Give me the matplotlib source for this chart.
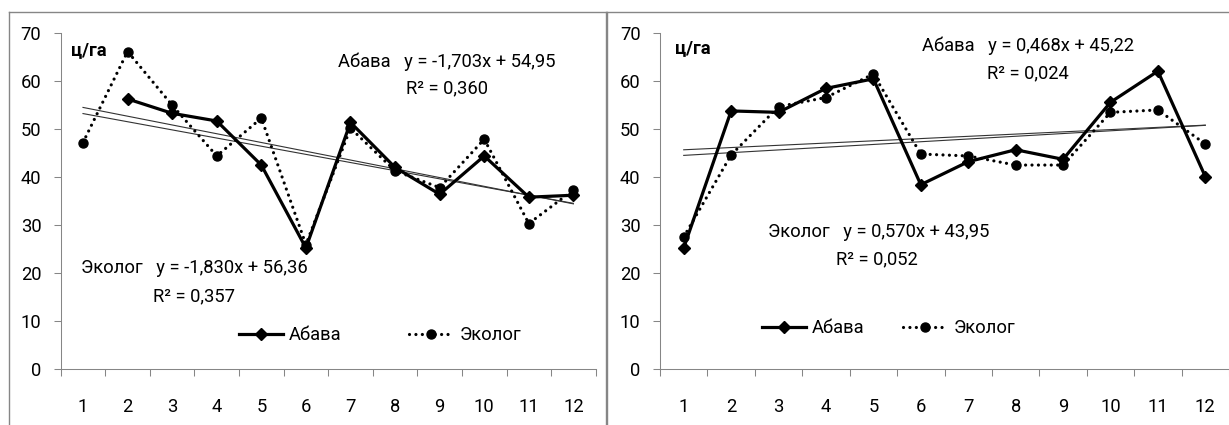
import numpy as np
import matplotlib
matplotlib.use('Agg')
import matplotlib.pyplot as plt
from matplotlib.lines import Line2D

plt.rcParams['font.family'] = ['Roboto', 'DejaVu Sans']

# Data
months = list(range(1, 13))
left_abava = [np.nan, 56.3, 53.3, 51.7, 42.5, 25.2, 51.4, 42.0, 36.4, 44.4, 35.8, 36.2]
left_ekolog = [47.2, 66.2, 55.0, 44.4, 52.3, 25.9, 50.2, 41.3, 37.8, 47.9, 30.3, 37.3]
right_abava = [25.2, 53.8, 53.5, 58.5, 60.5, 38.4, 43.2, 45.7, 43.7, 55.6, 62.1, 40.1]
right_ekolog = [27.5, 44.6, 54.7, 56.6, 61.5, 44.8, 44.4, 42.5, 42.5, 53.5, 54.0, 46.9]

# trendline coefficients (slope, intercept) and R2 as printed on the chart
left_trend_abava = (-1.703, 54.95, 0.360)
left_trend_ekolog = (-1.830, 56.36, 0.357)
right_trend_abava = (0.468, 45.22, 0.024)
right_trend_ekolog = (0.570, 43.95, 0.052)

unit = 'ц/га'
names = ['Абава', 'Эколог']

FS = 13.2
GRAY = '#868686'


def fmt(v, n):
    return f'{v:.{n}f}'.replace('.', ',')


def eq_text(name, tr):
    sign = '+' if tr[1] >= 0 else '-'
    return f'{name}   y = {fmt(tr[0], 3)}x {sign} {fmt(abs(tr[1]), 2)}'


def draw_panel(ax, abava, ekolog, tr_a, tr_e):
    x = np.array(months)
    xs = np.array([1, 12])
    ax.plot(xs, tr_a[0] * xs + tr_a[1], color='#333333', lw=0.8, zorder=2)
    ax.plot(xs, tr_e[0] * xs + tr_e[1], color='#333333', lw=0.8, zorder=2)
    ax.plot(x, abava, color='black', lw=2.3, marker='D', ms=6.5,
            label=names[0], zorder=3)
    ax.plot(x, ekolog, color='black', lw=2.3, ls=(0, (0.01, 2.0)),
            dash_capstyle='round', marker='o', ms=6.5, label=names[1], zorder=3)
    ax.set_xlim(0.5, 12.5)
    ax.set_ylim(0, 70)
    ax.set_yticks(range(0, 71, 10))
    ax.set_xticks(np.arange(0.5, 12.6, 1))
    ax.set_xticklabels([])
    ax.set_xticks(x, minor=True)
    ax.set_xticklabels([str(m) for m in months], minor=True, fontsize=FS)
    ax.tick_params(axis='x', which='major', direction='out', length=5,
                   color=GRAY, width=0.75)
    ax.tick_params(axis='x', which='minor', length=0, pad=21)
    ax.tick_params(axis='y', direction='out', length=5, color=GRAY,
                   width=0.75, pad=9, labelsize=FS)
    for s in ['top', 'right']:
        ax.spines[s].set_visible(False)
    for s in ['left', 'bottom']:
        ax.spines[s].set_color(GRAY)
        ax.spines[s].set_linewidth(0.75)
    ax.patch.set_alpha(0)


fig = plt.figure(figsize=(12.29, 4.25), dpi=100)

bottom = (425 - 368.7) / 425
height = 335.4 / 425
ax1 = fig.add_axes([60.7 / 1229, bottom, 535 / 1229, height])
ax2 = fig.add_axes([660 / 1229, bottom, 569 / 1229, height])

draw_panel(ax1, left_abava, left_ekolog, left_trend_abava, left_trend_ekolog)
draw_panel(ax2, right_abava, right_ekolog, right_trend_abava, right_trend_ekolog)

# left annotations
ax1.text(0.72, 66.5, unit, fontsize=FS, fontweight='bold', va='center')
ax1.text(9.17, 64.1, eq_text(names[0], left_trend_abava), fontsize=FS,
         ha='center', va='center')
ax1.text(9.17, 58.5, f'R² = {fmt(left_trend_abava[2], 3)}', fontsize=FS,
         ha='center', va='center')
ax1.text(3.50, 21.0, eq_text(names[1], left_trend_ekolog), fontsize=FS,
         ha='center', va='center')
ax1.text(3.50, 15.0, f'R² = {fmt(left_trend_ekolog[2], 3)}', fontsize=FS,
         ha='center', va='center')
ax1.legend(loc='center', bbox_to_anchor=(0.597, 0.10), ncol=2, frameon=False,
           fontsize=FS, handlelength=2.4, handletextpad=0.35,
           columnspacing=3.7)

# right annotations
ax2.text(0.82, 67.0, unit, fontsize=FS, fontweight='bold', va='center')
ax2.text(8.27, 67.4, eq_text(names[0], right_trend_abava), fontsize=FS,
         ha='center', va='center')
ax2.text(8.25, 61.7, f'R² = {fmt(right_trend_abava[2], 3)}', fontsize=FS,
         ha='center', va='center')
ax2.text(5.12, 28.5, eq_text(names[1], right_trend_ekolog), fontsize=FS,
         ha='center', va='center')
ax2.text(5.07, 22.9, f'R² = {fmt(right_trend_ekolog[2], 3)}', fontsize=FS,
         ha='center', va='center')
ax2.legend(loc='center', bbox_to_anchor=(0.4016, 0.121), ncol=2, frameon=False,
           fontsize=FS, handlelength=2.4, handletextpad=0.35,
           columnspacing=2.1)

# panel frames
W, H = 1229, 425
for x0, x1 in [(9.3, 606), (607.3, 1240)]:
    fig.add_artist(Line2D([x0 / W, x1 / W], [1 - 12 / H, 1 - 12 / H],
                          color=GRAY, lw=1.0))
    fig.add_artist(Line2D([x0 / W, x0 / W], [1 - 12 / H, -0.01],
                          color=GRAY, lw=1.0))
fig.add_artist(Line2D([606 / W, 606 / W], [1 - 12 / H, -0.01], color=GRAY, lw=1.0))

fig.savefig('out.png', dpi=100)
